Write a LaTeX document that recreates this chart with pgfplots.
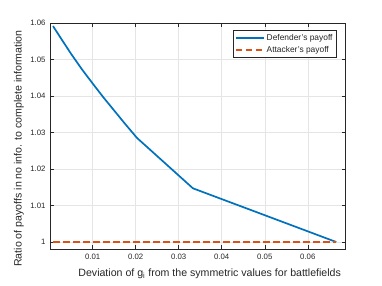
\documentclass[border=0pt]{standalone}
\usepackage{pgfplots}
\pgfplotsset{compat=1.18}
\usepackage{fontspec}
\setmainfont{Liberation Sans}
\definecolor{mblue}{rgb}{0,0.447,0.741}
\definecolor{morange}{rgb}{0.85,0.325,0.098}
\definecolor{axgray}{gray}{0.15}
\begin{document}
\begin{tikzpicture}
\path[use as bounding box] (-50bp,-36.7bp) rectangle (332bp,249.3bp);
\begin{axis}[
  at={(0,0)}, anchor=south west,
  scale only axis, width=295.7bp, height=226.5bp,
  xmin=0.0001, xmax=0.0688, ymin=0.998, ymax=1.06,
  scaled x ticks=false, scaled y ticks=false,
  xtick={0.01,0.02,0.03,0.04,0.05,0.06},
  xticklabels={0.01,0.02,0.03,0.04,0.05,0.06},
  ytick={1,1.01,1.02,1.03,1.04,1.05,1.06},
  yticklabels={1,1.01,1.02,1.03,1.04,1.05,1.06},
  tick label style={font=\fontsize{7.8bp}{9bp}\selectfont, text=axgray},
  xticklabel style={yshift=-1bp},
  yticklabel style={xshift=-1bp},
  tick align=inside, major tick length=4bp,
  tick style={axgray, line width=0.5bp},
  axis line style={axgray, line width=0.6bp},
  grid=major, major grid style={gray!20, line width=0.5bp},
  xlabel={Deviation of g\textsubscript{i} from the symmetric values for battlefields},
  ylabel={Ratio of payoffs in no info. to complete information},
  label style={font=\fontsize{10.6bp}{12bp}\selectfont, text=black!85},
  x label style={at={(axis description cs:0.54,-0.109)}, anchor=center},
  y label style={at={(axis description cs:-0.105,0.445)}, anchor=center},
  legend style={at={(axis description cs:0.968,0.967)}, anchor=north east,
    font=\fontsize{8.4bp}{9.5bp}\selectfont, draw=axgray,
    inner sep=1.5bp, row sep=0.5bp, text=axgray},
  legend cell align=left,
  legend image code/.code={\draw[#1, line width=1.7bp] (0bp,0bp) -- (28bp,0bp);},
]
\addplot[mblue, line width=1.7bp] coordinates {
 (0.0008,1.0591) (0.0030,1.0551) (0.0050,1.0515) (0.0075,1.0473)
 (0.0100,1.0434) (0.0125,1.0396) (0.0150,1.0360) (0.0175,1.0324)
 (0.0203,1.0285) (0.0333,1.0147) (0.0666,1.0000)
};
\addlegendentry{Defender's payoff}
\addplot[morange, line width=1.7bp, dash pattern=on 6.5bp off 3.5bp] coordinates {
 (0.0008,1.0) (0.0666,1.0)
};
\addlegendentry{Attacker's payoff}
\end{axis}
\end{tikzpicture}
\end{document}
